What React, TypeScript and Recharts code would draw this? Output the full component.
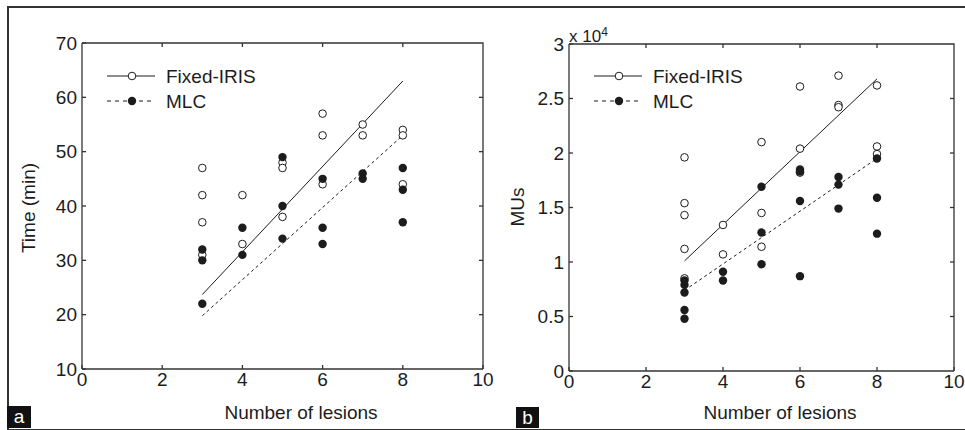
import { ComposedChart, Scatter, XAxis, YAxis, Legend } from "recharts";

const FONT = "'Liberation Sans', Arial, Helvetica, sans-serif";
const INK = "#1c1c1c";
const FRAME = "#333";

// panel a: treatment time (min) per number of lesions
const timeIrisX = [3, 3, 3, 3, 4, 4, 5, 5, 5, 6, 6, 6, 7, 7, 8, 8, 8];
const timeIrisY = [47, 42, 37, 31, 42, 33, 48, 47, 38, 57, 53, 44, 55, 53, 54, 53, 44];
const timeMlcX = [3, 3, 3, 4, 4, 5, 5, 5, 6, 6, 6, 7, 7, 8, 8, 8];
const timeMlcY = [32, 30, 22, 36, 31, 49, 40, 34, 45, 36, 33, 46, 45, 47, 43, 37];
const timeIrisFit = [23.7, 63];
const timeMlcFit = [19.8, 53];

// panel b: monitor units (x 10^4)
const muIrisX = [3, 3, 3, 3, 3, 4, 4, 5, 5, 5, 6, 6, 6, 7, 7, 7, 8, 8, 8];
const muIrisY = [1.96, 1.54, 1.43, 1.12, 0.85, 1.34, 1.07, 2.1, 1.45, 1.14, 2.61, 2.04, 1.82, 2.71, 2.44, 2.42, 2.62, 2.06, 1.99];
const muMlcX = [3, 3, 3, 3, 3, 4, 4, 5, 5, 5, 6, 6, 6, 6, 7, 7, 7, 8, 8, 8];
const muMlcY = [0.83, 0.79, 0.72, 0.56, 0.48, 0.91, 0.83, 1.69, 1.27, 0.98, 1.85, 1.83, 1.56, 0.87, 1.78, 1.71, 1.49, 1.95, 1.59, 1.26];
const muIrisFit = [1.01, 2.68];
const muMlcFit = [0.74, 1.95];

const fitX = [3, 8];
const xTicks = [0, 2, 4, 6, 8, 10];
const timeTicks = [10, 20, 30, 40, 50, 60, 70];
const muTicks = [0, 0.5, 1, 1.5, 2, 2.5, 3];

const zip = (xs: number[], ys: number[]) => xs.map((x, i) => ({ x, y: ys[i] }));

const openDot = (p: any) => (
  <circle cx={p.cx} cy={p.cy} r={3.8} fill="#fff" stroke={INK} strokeWidth={1} />
);
const filledDot = (p: any) => <circle cx={p.cx} cy={p.cy} r={4.2} fill={INK} />;
const noDot = () => <g />;

function LegendKey() {
  return (
    <svg width={150} height={45} style={{ display: "block" }}>
      <line x1={0} x2={48} y1={10} y2={10} stroke={INK} strokeWidth={1} />
      <circle cx={25} cy={10} r={3.8} fill="#fff" stroke={INK} />
      <text x={59} y={10} dy="0.35em" fontSize={19} fontFamily={FONT} fill={INK}>Fixed-IRIS</text>
      <line x1={0} x2={48} y1={35} y2={35} stroke={INK} strokeWidth={1.2} strokeDasharray="4 4" />
      <circle cx={25} cy={35} r={4.2} fill={INK} />
      <text x={59} y={35} dy="0.35em" fontSize={19} fontFamily={FONT} fill={INK}>MLC</text>
    </svg>
  );
}

// top and right edges of the MATLAB-style box, with inward ticks
function BoxEdges({ x0, x1, y0, y1, yTicks }: { x0: number; x1: number; y0: number; y1: number; yTicks: number[] }) {
  const xs = xTicks.slice(1, -1).map((t) => x0 + ((x1 - x0) * t) / xTicks[xTicks.length - 1]);
  const yMin = yTicks[0];
  const yMax = yTicks[yTicks.length - 1];
  const ys = yTicks.slice(1, -1).map((t) => y1 - ((y1 - y0) * (t - yMin)) / (yMax - yMin));
  return (
    <g stroke={FRAME} strokeWidth={1.3} fill="none">
      <polyline points={`${x0},${y0} ${x1},${y0} ${x1},${y1}`} />
      {xs.map((x) => <line key={`t${x}`} x1={x} x2={x} y1={y0} y2={y0 + 4} />)}
      {ys.map((y) => <line key={`r${y}`} x1={x1} x2={x1 - 4} y1={y} y2={y} />)}
    </g>
  );
}

interface PanelProps {
  left: number;
  width: number;
  yAxisWidth: number;
  right: number;
  top: number;
  bottom: number;
  yDomain: [number, number];
  yTicks: number[];
  iris: { x: number; y: number }[];
  mlc: { x: number; y: number }[];
  irisFit: { x: number; y: number }[];
  mlcFit: { x: number; y: number }[];
  legendLeft: number;
}

function Panel(p: PanelProps) {
  const tickStyle = { fontSize: 19, fontFamily: FONT, fill: INK };
  const axisStroke = { stroke: FRAME, strokeWidth: 1.3 };
  const xMax = xTicks[xTicks.length - 1];
  return (
    <div style={{ position: "absolute", left: p.left, top: 0 }}>
      <ComposedChart
        width={p.width}
        height={430}
        margin={{ top: p.top, right: p.right, bottom: p.bottom, left: 0 }}
      >
        <XAxis
          type="number"
          dataKey="x"
          domain={[0, xMax]}
          ticks={xTicks}
          height={30}
          tickSize={-4}
          tickMargin={8}
          tick={tickStyle}
          axisLine={axisStroke}
          tickLine={axisStroke}
          allowDataOverflow
        />
        <YAxis
          type="number"
          dataKey="y"
          domain={p.yDomain}
          ticks={p.yTicks}
          width={p.yAxisWidth}
          tickSize={-4}
          tickMargin={9}
          tick={tickStyle}
          axisLine={axisStroke}
          tickLine={axisStroke}
          allowDataOverflow
        />
        <Scatter data={p.irisFit} line={{ stroke: INK, strokeWidth: 1 }} shape={noDot} legendType="none" isAnimationActive={false} />
        <Scatter data={p.mlcFit} line={{ stroke: INK, strokeWidth: 1, strokeDasharray: "3 3" }} shape={noDot} legendType="none" isAnimationActive={false} />
        <Scatter name="Fixed-IRIS" data={p.iris} shape={openDot} isAnimationActive={false} />
        <Scatter name="MLC" data={p.mlc} shape={filledDot} isAnimationActive={false} />
        <Legend
          layout="vertical"
          align="center"
          verticalAlign="middle"
          content={() => <LegendKey />}
          wrapperStyle={{ left: p.legendLeft, top: 66, width: 150 }}
        />
      </ComposedChart>
      <svg width={p.width} height={430} style={{ position: "absolute", left: 0, top: 0, pointerEvents: "none" }}>
        <BoxEdges
          x0={p.yAxisWidth}
          x1={p.width - p.right}
          y0={p.top}
          y1={430 - p.bottom - 30}
          yTicks={p.yTicks}
        />
      </svg>
    </div>
  );
}

const titleStyle: React.CSSProperties = {
  position: "absolute",
  fontFamily: FONT,
  fontSize: 19,
  color: INK,
  whiteSpace: "nowrap",
  lineHeight: 1,
};

export default function App() {
  return (
    <div style={{ position: "fixed", left: 0, top: 0, width: 965, height: 430, background: "#fff", overflow: "hidden" }}>
      <Panel
        left={0}
        width={495}
        yAxisWidth={82}
        right={12}
        top={43}
        bottom={31}
        yDomain={[10, 70]}
        yTicks={timeTicks}
        iris={zip(timeIrisX, timeIrisY)}
        mlc={zip(timeMlcX, timeMlcY)}
        irisFit={zip(fitX, timeIrisFit)}
        mlcFit={zip(fitX, timeMlcFit)}
        legendLeft={107}
      />
      <Panel
        left={483}
        width={482}
        yAxisWidth={86}
        right={11}
        top={44}
        bottom={29}
        yDomain={[0, 3]}
        yTicks={muTicks}
        iris={zip(muIrisX, muIrisY)}
        mlc={zip(muMlcX, muMlcY)}
        irisFit={zip(fitX, muIrisFit)}
        mlcFit={zip(fitX, muMlcFit)}
        legendLeft={111}
      />

      {/* outer frame, open on the right like the source image */}
      <div style={{ position: "absolute", left: 7, top: 6, width: 970, height: 421, borderTop: `2px solid ${FRAME}`, borderLeft: `2px solid ${FRAME}`, borderBottom: `2px solid ${FRAME}` }} />

      <div style={{ ...titleStyle, left: 301, top: 412, transform: "translate(-50%, -50%)" }}>Number of lesions</div>
      <div style={{ ...titleStyle, left: 780, top: 412, transform: "translate(-50%, -50%)" }}>Number of lesions</div>
      <div style={{ ...titleStyle, left: 28, top: 208, transform: "translate(-50%, -50%) rotate(-90deg)" }}>Time (min)</div>
      <div style={{ ...titleStyle, left: 517, top: 207, transform: "translate(-50%, -50%) rotate(-90deg)" }}>MUs</div>
      <div style={{ ...titleStyle, left: 569, top: 26, fontSize: 17 }}>
        x 10<sup style={{ fontSize: 12, verticalAlign: "6px" }}>4</sup>
      </div>

      <div style={{ position: "absolute", left: 7, top: 406, width: 24, height: 22, background: "#111", color: "#fff", fontFamily: FONT, fontSize: 19, lineHeight: "22px", textAlign: "center" }}>a</div>
      <div style={{ position: "absolute", left: 516, top: 407, width: 23, height: 21, background: "#111", color: "#fff", fontFamily: FONT, fontSize: 19, lineHeight: "21px", textAlign: "center" }}>b</div>
    </div>
  );
}
